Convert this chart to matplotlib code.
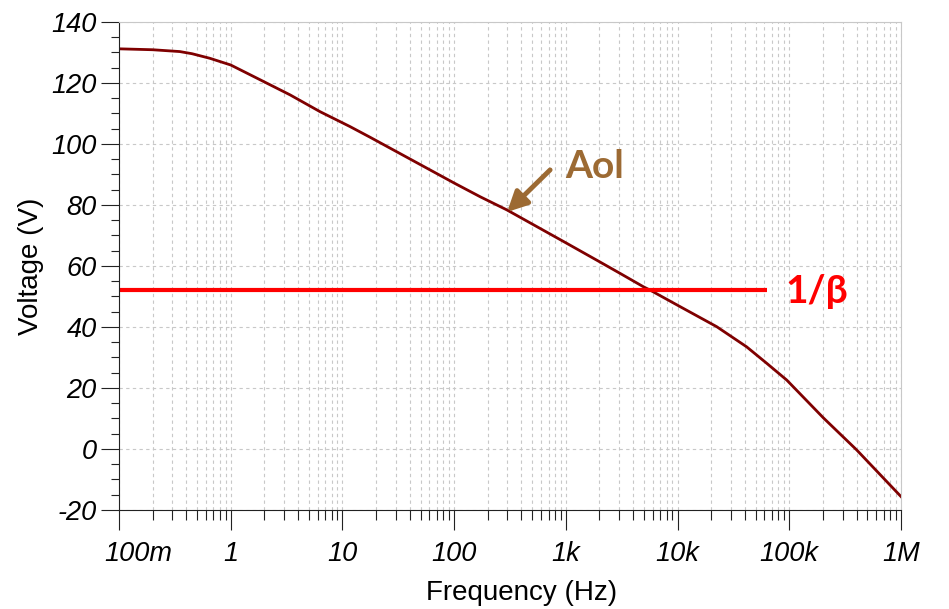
import numpy as np
import matplotlib.pyplot as plt
from matplotlib.ticker import FixedLocator, FixedFormatter, LogLocator, NullFormatter, MultipleLocator
from matplotlib.transforms import ScaledTranslation

# open loop gain
freq = [0.1, 0.2, 0.35, 0.45, 0.65, 1, 1.8, 3.4, 6.3, 11.7, 17.7, 100, 171, 296,
        1000, 2000, 3050, 4940, 5670, 10500, 22400, 41500, 62800, 94900, 202000, 401000, 1000000]
aol = [131.2, 130.9, 130.3, 129.6, 128.1, 125.9, 121.2, 116.1, 110.6, 105.7, 102.2, 87.2, 82.7, 78.4,
       67.6, 61.4, 57.6, 53.2, 52.1, 46.7, 40.1, 33.5, 28.1, 22.6, 10.2, -0.3, -15.6]

# feedback line 1/beta
beta_f = [0.1, 63000]
beta_v = [52.1, 52.1]

xticks = [0.1, 1, 10, 100, 1e3, 1e4, 1e5, 1e6]
xlabels = ['100m', '1', '10', '100', '1k', '10k', '100k', '1M']
yticks = [-20, 0, 20, 40, 60, 80, 100, 120, 140]

plt.rcParams['font.family'] = ['Liberation Sans', 'DejaVu Sans']
plt.rcParams['axes.unicode_minus'] = False

fig = plt.figure(figsize=(9.49, 6.09), dpi=100)
ax = fig.add_axes([0.1254, 0.1626, 0.824, 0.8013])

ax.semilogx(freq, aol, color='#7f0000', lw=2)
ax.plot(beta_f, beta_v, color='#ff0000', lw=3, solid_capstyle='butt')

ax.set_xlim(0.1, 1e6)
ax.set_ylim(-20, 140)

ax.xaxis.set_major_locator(FixedLocator(xticks))
ax.xaxis.set_major_formatter(FixedFormatter(xlabels))
ax.xaxis.set_minor_locator(LogLocator(base=10, subs=np.arange(2, 10), numticks=20))
ax.xaxis.set_minor_formatter(NullFormatter())
ax.yaxis.set_major_locator(FixedLocator(yticks))
ax.yaxis.set_minor_locator(MultipleLocator(5))

ax.grid(which='both', axis='x', color='#c8c8c8', ls=(0, (3, 3)), lw=0.8)
ax.grid(which='major', axis='y', color='#c8c8c8', ls=(0, (3, 3)), lw=0.8)
ax.set_axisbelow(True)

# tick sizes in points (1 px = 0.72 pt here)
ax.tick_params(which='major', direction='out', length=13, width=0.8, color='#222222')
ax.tick_params(which='minor', direction='out', length=6, width=0.8, color='#222222')
ax.tick_params(axis='x', which='major', length=14.5, pad=8)
ax.tick_params(axis='x', which='minor', length=7)
ax.tick_params(axis='y', which='major', pad=3)
for lab in ax.get_xticklabels() + ax.get_yticklabels():
    lab.set_fontsize(19.5)
    lab.set_fontstyle('italic')
    lab.set_color('black')
ax.get_xticklabels()[0].set_transform(ax.get_xticklabels()[0].get_transform()
                                      + ScaledTranslation(0.19, 0, fig.dpi_scale_trans))

for s in ['top', 'right']:
    ax.spines[s].set_color('#c8c8c8')
for s in ['left', 'bottom']:
    ax.spines[s].set_color('#222222')

ax.set_xlabel('Frequency (Hz)', fontsize=20, labelpad=9)
ax.xaxis.label.set_x(0.515)
ax.set_ylabel('Voltage (V)', fontsize=20, labelpad=5)

brown = '#9c6a33'
ax.annotate('', xy=(298, 77.7), xytext=(723, 91.5),
            arrowprops=dict(arrowstyle='-|>', color=brown, lw=3.5, mutation_scale=30,
                            shrinkA=0, shrinkB=0))
ax.text(985, 88.9, 'Aol', color=brown, fontsize=28, fontweight='bold',
        family=['Lato', 'DejaVu Sans'], ha='left', va='baseline')
ax.text(91600, 47.9, '1/β', color='#ff0000', fontsize=28, fontweight='bold',
        family=['Lato', 'DejaVu Sans'], ha='left', va='baseline', clip_on=False)

fig.savefig('out.png', dpi=100)
